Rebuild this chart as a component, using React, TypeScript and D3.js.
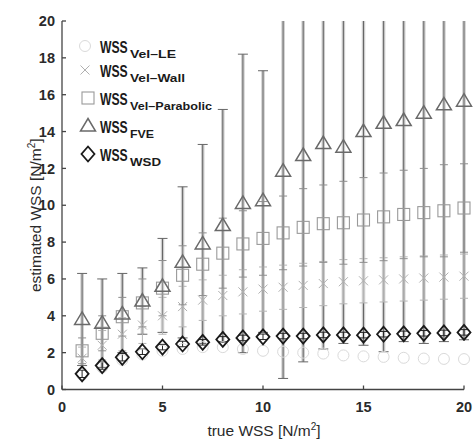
import React from "react";
import * as d3 from "d3";

// true WSS [N/m²], 1..20
const trueWss = d3.range(1, 21);

// series means
const velLE = [0.8, 1.2, 1.6, 1.9, 2.1, 2.2, 2.3, 2.3, 2.2, 2.1, 2.05, 2.0, 1.95, 1.85, 1.8, 1.77, 1.72, 1.68, 1.66, 1.65];
const velWall = [1.7, 2.4, 3.0, 3.5, 4.0, 4.5, 4.85, 5.1, 5.3, 5.45, 5.55, 5.65, 5.75, 5.85, 5.9, 5.95, 6.0, 6.05, 6.1, 6.15];
const velParab = [2.1, 3.05, 3.95, 4.7, 5.5, 6.2, 6.8, 7.4, 7.9, 8.2, 8.5, 8.8, 9.0, 9.05, 9.2, 9.37, 9.5, 9.6, 9.7, 9.85];
const fve = [3.8, 3.6, 4.1, 4.8, 5.6, 6.9, 7.9, 8.9, 10.1, 10.25, 11.85, 12.7, 13.35, 13.15, 14.0, 14.45, 14.6, 15.0, 15.45, 15.65];
const wsd = [0.85, 1.3, 1.75, 2.05, 2.3, 2.47, 2.56, 2.72, 2.8, 2.86, 2.9, 2.9, 2.96, 2.96, 2.95, 3.0, 3.02, 3.05, 3.07, 3.1];

// error bar limits
const fveLow = [1.3, 1.2, 2.0, 3.0, 3.1, 2.8, 2.5, 2.6, 2.0, 3.1, 0.6, 1.5, 2.2, 2.5, 2.4, 2.05, 2.6, 2.5, 2.6, 2.7];
const fveHigh = [6.3, 6.0, 6.3, 6.6, 8.2, 11.0, 13.3, 15.2, 18.2, 17.3, 23, 24, 24, 24, 25, 26.9, 25, 26, 27, 27];
const parabHigh = [2.8, 4.0, 5.0, 6.0, 7.0, 7.8, 8.5, 9.3, 9.7, 10.2, 10.5, 10.9, 11.1, 11.3, 11.5, 11.75, 11.9, 12.0, 12.2, 12.25];
const wallSpread = [0.6, 0.8, 0.9, 1.0, 1.0, 1.1, 1.1, 1.1, 1.2, 1.2, 1.2, 1.2, 1.2, 1.2, 1.2, 1.2, 1.2, 1.2, 1.2, 1.2];
const wsdSpread = [0.2, 0.2, 0.2, 0.15, 0.15, 0.15, 0.15, 0.15, 0.15, 0.15, 0.15, 0.15, 0.15, 0.15, 0.15, 0.15, 0.15, 0.15, 0.15, 0.15];

const xTicks = [0, 5, 10, 15, 20];
const yTicks = [0, 2, 4, 6, 8, 10, 12, 14, 16, 18, 20];

const legendItems = [
  { sub: "Vel\u2013LE", kind: "circle", y: 53, len: 46 },
  { sub: "Vel\u2013Wall", kind: "cross", y: 77, len: 55 },
  { sub: "Vel\u2013Parabolic", kind: "square", y: 105, len: 82 },
  { sub: "FVE", kind: "triangle", y: 133, len: 24 },
  { sub: "WSD", kind: "diamond", y: 161, len: 31 },
];

const W = 473;
const H = 441;
const font = "'Liberation Sans', Arial, Helvetica, sans-serif";

const styles: Record<string, { stroke: string; width: number }> = {
  circle: { stroke: "#dadada", width: 1 },
  cross: { stroke: "#b0b0b0", width: 1 },
  square: { stroke: "#9a9a9a", width: 1.1 },
  triangle: { stroke: "#6a6a6a", width: 1.5 },
  diamond: { stroke: "#1a1a1a", width: 1.8 },
};

function Marker({ kind, cx, cy }: { kind: string; cx: number; cy: number }) {
  const s = styles[kind];
  const common = { fill: "none", stroke: s.stroke, strokeWidth: s.width };
  if (kind === "circle") return <circle cx={cx} cy={cy} r={5.5} {...common} />;
  if (kind === "cross")
    return <path d={`M${cx - 4.5},${cy - 4.5}L${cx + 4.5},${cy + 4.5}M${cx - 4.5},${cy + 4.5}L${cx + 4.5},${cy - 4.5}`} {...common} />;
  if (kind === "square") return <rect x={cx - 6} y={cy - 6} width={12} height={12} {...common} />;
  if (kind === "triangle")
    return <path d={`M${cx},${cy - 7.5}L${cx + 7.5},${cy + 5}L${cx - 7.5},${cy + 5}Z`} {...common} />;
  return <path d={`M${cx},${cy - 7.5}L${cx + 6.5},${cy}L${cx},${cy + 7.5}L${cx - 6.5},${cy}Z`} {...common} />;
}

function ErrBar({ cx, lo, hi, color, width, cap }: { cx: number; lo: number; hi: number; color: string; width: number; cap: number }) {
  return (
    <g stroke={color} strokeWidth={width}>
      <line x1={cx} x2={cx} y1={lo} y2={hi} />
      {cap > 0 && <line x1={cx - cap} x2={cx + cap} y1={lo} y2={lo} strokeWidth={1} />}
      {cap > 0 && <line x1={cx - cap} x2={cx + cap} y1={hi} y2={hi} strokeWidth={1} />}
    </g>
  );
}

export default function App() {
  const x = d3.scaleLinear().domain([0, 20]).range([62, 464]);
  const y = d3.scaleLinear().domain([0, 20]).range([389.5, 21]);

  return (
    <svg width={W} height={H} style={{ position: "absolute", left: 0, top: 0, background: "#fff" }} fontFamily={font}>
      <defs>
        <clipPath id="plot">
          <rect x={x(0)} y={y(20)} width={x(20) - x(0) + 10} height={y(0) - y(20)} />
        </clipPath>
      </defs>

      <g clipPath="url(#plot)">
        {/* FVE error bars: light wide band with thin darker core */}
        {trueWss.map((t, i) => (
          <line key={`fu${i}`} x1={x(t)} x2={x(t)} y1={y(fveLow[i])} y2={y(fveHigh[i])} stroke="#cdcdcd" strokeWidth={3.5} />
        ))}
        {trueWss.map((t, i) => (
          <ErrBar key={`fb${i}`} cx={x(t)} lo={y(fveLow[i])} hi={y(fveHigh[i])} color="#666" width={1} cap={5} />
        ))}
        {/* Vel-Wall */}
        {trueWss.map((t, i) => (
          <ErrBar key={`wb${i}`} cx={x(t)} lo={y(velWall[i] - wallSpread[i])} hi={y(velWall[i] + wallSpread[i])} color="#b5b5b5" width={1} cap={4} />
        ))}
        {/* Vel-Parabolic */}
        {trueWss.map((t, i) => (
          <ErrBar key={`pb${i}`} cx={x(t)} lo={y(2 * velParab[i] - parabHigh[i])} hi={y(parabHigh[i])} color="#8e8e8e" width={1} cap={4} />
        ))}
        {/* WSD */}
        {trueWss.map((t, i) => (
          <ErrBar key={`db${i}`} cx={x(t)} lo={y(wsd[i] - wsdSpread[i])} hi={y(wsd[i] + wsdSpread[i])} color="#222" width={1} cap={4} />
        ))}

        {trueWss.map((t, i) => <Marker key={`c${i}`} kind="circle" cx={x(t)} cy={y(velLE[i])} />)}
        {trueWss.map((t, i) => <Marker key={`x${i}`} kind="cross" cx={x(t)} cy={y(velWall[i])} />)}
        {trueWss.map((t, i) => <Marker key={`s${i}`} kind="square" cx={x(t)} cy={y(velParab[i])} />)}
        {trueWss.map((t, i) => <Marker key={`t${i}`} kind="triangle" cx={x(t)} cy={y(fve[i])} />)}
        {trueWss.map((t, i) => <Marker key={`d${i}`} kind="diamond" cx={x(t)} cy={y(wsd[i])} />)}
      </g>

      {/* axes */}
      <g stroke="#444" strokeWidth={1.3}>
        <line x1={x(0)} x2={x(0)} y1={y(20)} y2={y(0)} />
        <line x1={x(0)} x2={x(20)} y1={y(0)} y2={y(0)} />
        {yTicks.map((v) => (
          <line key={`yt${v}`} x1={x(0)} x2={x(0) + 4} y1={y(v)} y2={y(v)} />
        ))}
        {xTicks.map((v) => (
          <line key={`xt${v}`} x1={x(v)} x2={x(v)} y1={y(0)} y2={y(0) - 4} />
        ))}
      </g>
      <g fontSize={14.5} fill="#2a2a2a" fontWeight="bold">
        {yTicks.map((v) => (
          <text key={`yl${v}`} x={55} y={y(v)} dy="0.36em" textAnchor="end">{v}</text>
        ))}
        {xTicks.map((v) => (
          <text key={`xl${v}`} x={x(v)} y={412} textAnchor="middle">{v}</text>
        ))}
      </g>

      <text x={(x(0) + x(20)) / 2 + 1} y={436} textAnchor="middle" fontSize={15.5} fill="#2a2a2a">
        true WSS [N/m<tspan fontSize={10} dy={-6}>2</tspan><tspan dy={6}>]</tspan>
      </text>
      <text transform={`translate(41,${(y(0) + y(20)) / 2 + 10}) rotate(-90)`} textAnchor="middle" fontSize={15.5} fill="#2a2a2a">
        estimated WSS [N/m<tspan fontSize={10} dy={-6}>2</tspan><tspan dy={6}>]</tspan>
      </text>

      {/* legend */}
      {legendItems.map((d) => (
        <g key={d.sub} fill="#1a1a1a" fontWeight="bold">
          <Marker kind={d.kind} cx={d.kind === "circle" || d.kind === "cross" ? 85 : 88} cy={d.y - 7} />
          <text transform={`translate(100,${d.y}) scale(0.76,1)`} fontSize={16}>WSS</text>
          <text x={130} y={d.y + 5} fontSize={10} textLength={d.len} lengthAdjust="spacingAndGlyphs">{d.sub}</text>
        </g>
      ))}
    </svg>
  );
}
